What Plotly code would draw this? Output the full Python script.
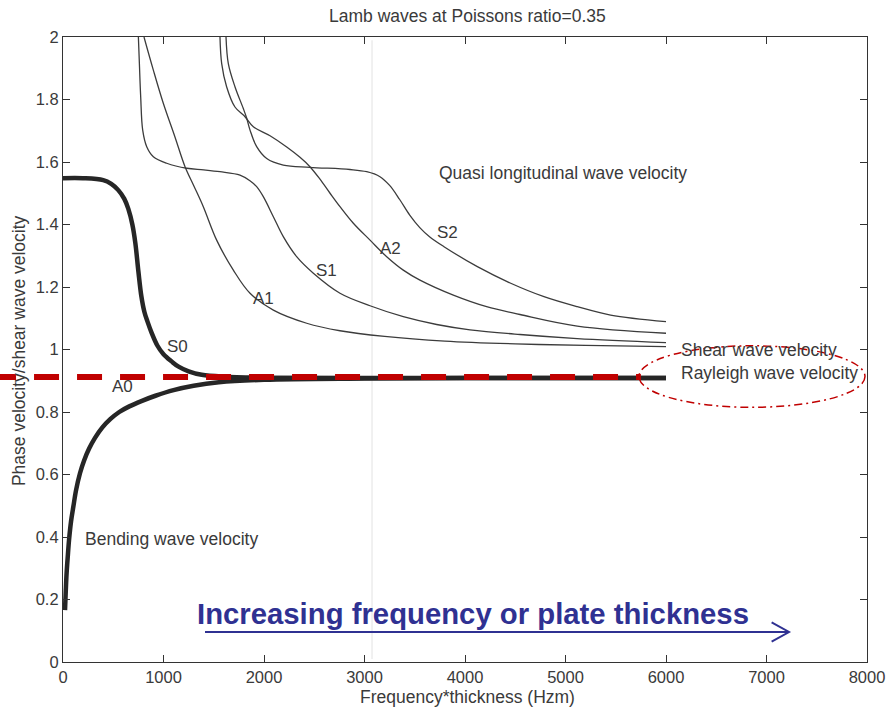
import plotly.graph_objects as go

# Lamb wave dispersion: phase velocity / shear wave velocity vs frequency*thickness
# Fundamental modes (drawn heavy)
s0_x = [0, 200, 400, 480, 550, 610, 650, 690, 720, 750, 780, 810, 840, 880, 940,
        1000, 1080, 1150, 1250, 1380, 1600, 2000, 3000, 4500, 6000]
s0_y = [1.548, 1.548, 1.542, 1.530, 1.510, 1.482, 1.450, 1.400, 1.340, 1.250, 1.170,
        1.120, 1.090, 1.055, 1.012, 0.985, 0.962, 0.945, 0.930, 0.919, 0.913, 0.910,
        0.909, 0.909, 0.909]

a0_x = [20, 28, 36, 48, 60, 80, 103, 130, 169, 210, 260, 320, 390, 470, 560, 660, 780,
        920, 1100, 1300, 1550, 2000, 3000, 4500, 6000]
a0_y = [0.166, 0.230, 0.285, 0.340, 0.390, 0.450, 0.497, 0.550, 0.604, 0.645, 0.683,
        0.718, 0.750, 0.777, 0.800, 0.818, 0.835, 0.852, 0.870, 0.884, 0.895, 0.903,
        0.907, 0.909, 0.909]

# Higher order modes (drawn thin)
a1_x = [806, 899, 998, 1114, 1214, 1300, 1396, 1529, 1695, 1861, 2093, 2425, 2756,
        3200, 3800, 4500, 5200, 6000]
a1_y = [2.000, 1.894, 1.788, 1.680, 1.585, 1.525, 1.457, 1.350, 1.254, 1.180, 1.126,
        1.084, 1.060, 1.042, 1.027, 1.018, 1.013, 1.009]

s1_x = [750, 760, 773, 793, 833, 899, 1032, 1231, 1400, 1562, 1761, 1860, 1927, 1993,
        2093, 2192, 2325, 2491, 2756, 3055, 3386, 3718, 4050, 4547, 5117, 6000]
s1_y = [2.000, 1.915, 1.809, 1.702, 1.649, 1.617, 1.596, 1.580, 1.575, 1.569, 1.558,
        1.540, 1.521, 1.489, 1.425, 1.361, 1.297, 1.244, 1.180, 1.140, 1.105, 1.080,
        1.063, 1.048, 1.035, 1.022]

a2_x = [1562, 1579, 1628, 1711, 1811, 1894, 2060, 2226, 2358, 2457, 2557, 2657, 2756,
        2889, 3055, 3221, 3386, 3552, 3884, 4215, 4547, 5117, 6000]
a2_y = [2.000, 1.915, 1.841, 1.776, 1.745, 1.713, 1.684, 1.648, 1.615, 1.585, 1.545,
        1.500, 1.457, 1.404, 1.350, 1.297, 1.254, 1.222, 1.174, 1.137, 1.112, 1.075,
        1.052]

s2_x = [1622, 1645, 1711, 1794, 1828, 1861, 1927, 2027, 2192, 2457, 2855, 3022, 3154,
        3250, 3350, 3450, 3550, 3650, 3791, 4123, 4455, 4786, 5117, 5449, 6000]
s2_y = [2.000, 1.915, 1.841, 1.771, 1.740, 1.702, 1.649, 1.611, 1.590, 1.583, 1.576,
        1.569, 1.553, 1.525, 1.480, 1.430, 1.390, 1.360, 1.329, 1.265, 1.212, 1.169,
        1.137, 1.110, 1.089]

# Mode labels
mode_names = ["S0", "A0", "A1", "S1", "A2", "S2"]
mode_lx = [1139, 592, 1990, 2617, 3254, 3821]
mode_ly = [1.011, 0.882, 1.162, 1.254, 1.322, 1.374]

# Descriptive labels (left-anchored)
note_text = ["Quasi longitudinal wave velocity", "Shear wave velocity",
             "Rayleigh wave velocity", "Bending wave velocity"]
note_x = [3721, 6129, 6129, 199]
note_y = [1.566, 0.998, 0.924, 0.394]

# Axes
x_ticks = [0, 1000, 2000, 3000, 4000, 5000, 6000, 7000, 8000]
y_ticks = [0, 0.2, 0.4, 0.6, 0.8, 1.0, 1.2, 1.4, 1.6, 1.8, 2.0]
y_ticktext = ["0", "0.2", "0.4", "0.6", "0.8", "1", "1.2", "1.4", "1.6", "1.8", "2"]
X_RANGE = [0, 8000]
Y_RANGE = [0, 2]

# Rayleigh velocity marker and highlight
rayleigh_level = 0.912
rayleigh_x = [-716, 5750]
ellipse_x = [5731, 7980]
ellipse_y = [0.815, 1.012]

# Direction arrow
arrow_label = "Increasing frequency or plate thickness"
arrow_x = [1413, 7224]
arrow_y = 0.096
arrow_label_pos = (1313, 0.155)
head_back = 7051
head_half = 0.031

FONT = "Liberation Sans, Arial, Helvetica, sans-serif"
TXT = "#3a3a3a"
RED = "#c00000"
BLUE = "#2f3192"

fig = go.Figure()

thin = dict(color="#3c3c3c", width=1.3, shape="spline", smoothing=1.0)
thick = dict(color="#262626", width=4.5, shape="spline", smoothing=1.0)

for xs, ys in [(a1_x, a1_y), (s1_x, s1_y), (a2_x, a2_y), (s2_x, s2_y)]:
    fig.add_trace(go.Scatter(x=xs, y=ys, mode="lines", line=thin,
                             hoverinfo="skip", showlegend=False))
for xs, ys in [(s0_x, s0_y), (a0_x, a0_y)]:
    fig.add_trace(go.Scatter(x=xs, y=ys, mode="lines", line=thick,
                             hoverinfo="skip", showlegend=False))

annotations = []
for t, x, y in zip(mode_names, mode_lx, mode_ly):
    annotations.append(dict(x=x, y=y, xref="x", yref="y", text=t, showarrow=False,
                            xanchor="center", yanchor="middle",
                            font=dict(family=FONT, size=17, color=TXT)))
for t, x, y in zip(note_text, note_x, note_y):
    annotations.append(dict(x=x, y=y, xref="x", yref="y", text=t, showarrow=False,
                            xanchor="left", yanchor="middle",
                            font=dict(family=FONT, size=17.5, color=TXT)))

annotations.append(dict(x=arrow_label_pos[0], y=arrow_label_pos[1], xref="x", yref="y",
                        text="<b>" + arrow_label + "</b>", showarrow=False,
                        xanchor="left", yanchor="middle",
                        font=dict(family="Arial, Liberation Sans, sans-serif", size=29.3,
                                  color=BLUE)))

# Titles
annotations.append(dict(x=0.5025, y=1.0336, xref="paper", yref="paper",
                        text="Lamb waves at Poissons ratio=0.35", showarrow=False,
                        xanchor="center", yanchor="middle",
                        font=dict(family=FONT, size=17.5, color=TXT)))
annotations.append(dict(x=0.5025, y=-0.056, xref="paper", yref="paper",
                        text="Frequency*thickness (Hzm)", showarrow=False,
                        xanchor="center", yanchor="middle",
                        font=dict(family=FONT, size=17.5, color=TXT)))
annotations.append(dict(x=-0.0556, y=0.498, xref="paper", yref="paper",
                        text="Phase velocity/shear wave velocity", showarrow=False,
                        textangle=-90, xanchor="center", yanchor="middle",
                        font=dict(family=FONT, size=17.5, color=TXT)))

span_x = X_RANGE[1] - X_RANGE[0]
span_y = Y_RANGE[1] - Y_RANGE[0]

shapes = [
    # faint vertical streak
    dict(type="line", xref="x", yref="paper", x0=3075, x1=3075, y0=0.005, y1=0.995,
         line=dict(color="#ececec", width=1.5), layer="below"),
    # Rayleigh velocity level, extended past the axis
    dict(type="line", xref="paper", yref="paper",
         x0=(rayleigh_x[0] - X_RANGE[0]) / span_x, x1=(rayleigh_x[1] - X_RANGE[0]) / span_x,
         y0=(rayleigh_level - Y_RANGE[0]) / span_y, y1=(rayleigh_level - Y_RANGE[0]) / span_y,
         line=dict(color=RED, width=6, dash="25px,18px"), layer="above"),
    # highlight ellipse
    dict(type="circle", xref="x", yref="y", x0=ellipse_x[0], x1=ellipse_x[1],
         y0=ellipse_y[0], y1=ellipse_y[1],
         line=dict(color=RED, width=1.5, dash="8px,4px,2px,4px"), layer="above"),
    # arrow shaft and head
    dict(type="line", xref="x", yref="y", x0=arrow_x[0], x1=arrow_x[1],
         y0=arrow_y, y1=arrow_y, line=dict(color=BLUE, width=2)),
    dict(type="path", xref="x", yref="y",
         path=f"M {head_back},{arrow_y + head_half} L {arrow_x[1]},{arrow_y} "
              f"L {head_back},{arrow_y - head_half}",
         line=dict(color=BLUE, width=2)),
]

axis_common = dict(showline=True, linecolor="#333333", linewidth=1.2, mirror="ticks",
                   ticks="inside", ticklen=7, tickwidth=1.2, tickcolor="#333333",
                   showgrid=False, zeroline=False, automargin=False,
                   tickfont=dict(family=FONT, size=16.5, color=TXT))

fig.update_layout(
    width=888, height=709,
    margin=dict(l=63, r=21, t=37, b=47, autoexpand=False),
    paper_bgcolor="white", plot_bgcolor="white",
    xaxis=dict(range=X_RANGE, tickvals=x_ticks, **axis_common),
    yaxis=dict(range=Y_RANGE, tickvals=y_ticks, ticktext=y_ticktext, **axis_common),
    annotations=annotations, shapes=shapes, showlegend=False,
)

fig.write_html("out.html")
